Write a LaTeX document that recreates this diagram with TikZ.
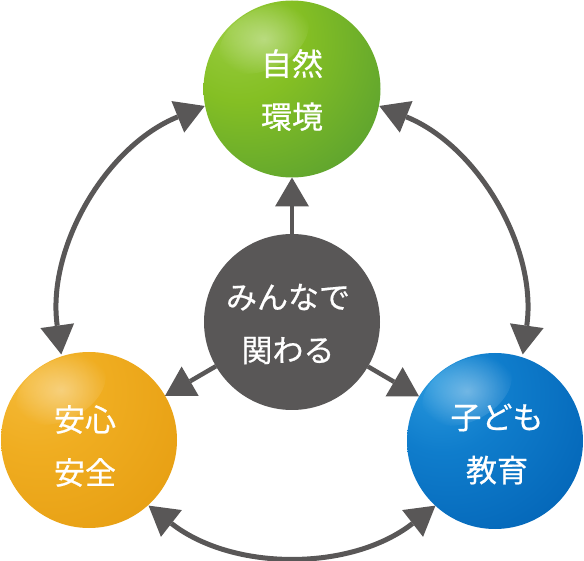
\documentclass[tikz,border=0pt]{standalone}
\usepackage{fontspec}
\newfontfamily\jp[FakeBold=0.6]{Noto Sans CJK JP}
\usetikzlibrary{arrows.meta,fadings}
\definecolor{arrgray}{HTML}{595757}
\pgfdeclareradialshading{greenball}{\pgfpoint{-18bp}{18bp}}{rgb(0bp)=(0.60,0.80,0.25);rgb(18bp)=(0.52,0.75,0.14);rgb(40bp)=(0.38,0.65,0.18);rgb(62bp)=(0.27,0.57,0.22);rgb(100bp)=(0.25,0.55,0.22)}
\pgfdeclareradialshading{orangeball}{\pgfpoint{-18bp}{18bp}}{rgb(0bp)=(0.96,0.73,0.22);rgb(18bp)=(0.94,0.68,0.13);rgb(40bp)=(0.91,0.63,0.08);rgb(62bp)=(0.87,0.59,0.05);rgb(100bp)=(0.86,0.58,0.05)}
\pgfdeclareradialshading{blueball}{\pgfpoint{-18bp}{18bp}}{rgb(0bp)=(0.16,0.60,0.87);rgb(18bp)=(0.06,0.49,0.80);rgb(40bp)=(0.02,0.41,0.73);rgb(62bp)=(0.0,0.32,0.62);rgb(100bp)=(0.0,0.30,0.60)}
\tikzfading[name=hlfade, inner color=transparent!25, outer color=transparent!100]
\tikzset{
  ball/.style={circle, minimum size=176pt, inner sep=0pt, outer sep=0pt},
  btext/.style={text=white, font=\jp\fontsize{31}{53}\selectfont, align=center, inner sep=0pt},
  arr/.style={draw=arrgray, line width=4.5pt, -{Triangle[length=29pt,width=34pt,line width=0pt]}},
  darr/.style={draw=arrgray, line width=5pt, {Triangle[length=29pt,width=34pt,line width=0pt]}-{Triangle[length=29pt,width=34pt,line width=0pt]}},
  hilite/.style={fill=white, fill opacity=0.5, path fading=hlfade}
}
\begin{document}
\begin{tikzpicture}[x=1pt,y=1pt]
\useasboundingbox (0,0) rectangle (584,560);
\coordinate (O) at (292,238);
% balls
\node[ball, minimum size=177pt, shading=greenball] (green) at (292,471) {};
\node[ball, shading=orangeball] (orange) at (89,120) {};
\node[ball, shading=blueball] (blue) at (495,119) {};
\node[ball, fill=arrgray] (gray) at (O) {};
% highlights
\foreach \b in {green,orange,blue}{
  \begin{scope}[shift={(\b.center)}, shift={(-28,50)}, rotate=28]
    \path[hilite] (0,0) ellipse[x radius=48, y radius=30];
  \end{scope}
}
% texts
\node[btext] (tg) at ([shift={(0,-1)}]green.center) {自然\\環境};
\node[btext] (tc) at ([shift={(-4,-2)}]gray.center) {みんなで\\関わる};
\node[btext] (to) at ([shift={(-4,-6)}]orange.center) {安心\\安全};
\node[btext] (tb) at ([shift={(2,-3)}]blue.center) {子ども\\教育};
% straight arrows
\draw[arr] (gray) -- (green);
\draw[arr] (gray) -- (orange);
\draw[arr] (gray) -- (blue);
% arc arrows
\coordinate (a1) at ([shift={(112:233)}]O);
\coordinate (a2) at ([shift={(232:233)}]O);
\coordinate (a3) at ([shift={(352:233)}]O);
\draw[darr] (a1) arc[start angle=112, end angle=188, radius=233];
\draw[darr] (a2) arc[start angle=232, end angle=308, radius=233];
\draw[darr] (a3) arc[start angle=-8, end angle=68, radius=233];
\end{tikzpicture}
\end{document}
